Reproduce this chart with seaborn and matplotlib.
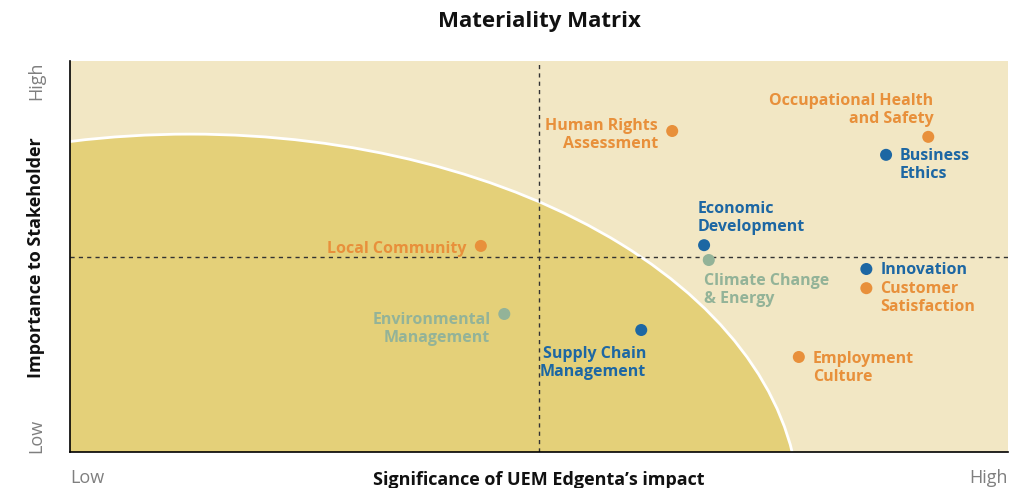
import matplotlib
matplotlib.use('Agg')
import matplotlib.pyplot as plt
from matplotlib.patches import Ellipse
import pandas as pd
import seaborn as sns

# topics on a 0-10 scale (x: significance of impact, y: importance to stakeholder)
topics = ['Human Rights\nAssessment', 'Occupational Health\nand Safety', 'Business\nEthics',
          'Economic\nDevelopment', 'Climate Change\n& Energy', 'Innovation',
          'Customer\nSatisfaction', 'Local Community', 'Environmental\nManagement',
          'Supply Chain\nManagement', 'Employment\nCulture']
impact = [6.42, 9.15, 8.70, 6.76, 6.81, 8.49, 8.49, 4.38, 4.63, 6.09, 7.77]
importance = [8.21, 8.06, 7.60, 5.29, 4.91, 4.68, 4.19, 5.27, 3.53, 3.12, 2.43]
group = ['orange', 'orange', 'blue', 'blue', 'green', 'blue', 'orange', 'orange', 'green', 'blue', 'orange']

palette = {'orange': '#E8903B', 'blue': '#1D67A3', 'green': '#93B398'}

# label placement relative to the dot (offset pixels, alignment)
label_layout = [(-14, -3, 'right'), (5, 28, 'right'), (14, -9, 'left'),
                (-6, 28, 'left'), (-5, -29, 'left'), (14, 0, 'left'),
                (14, -9, 'left'), (-14, -2, 'right'), (-14, -14, 'right'),
                (5, -32, 'right'), (14, -10, 'left')]

df = pd.DataFrame({'topic': topics, 'impact': impact, 'importance': importance, 'group': group})

sns.set_style('white')
plt.rcParams['font.family'] = ['Open Sans', 'DejaVu Sans']

fig = plt.figure(figsize=(10.29, 4.89), dpi=100)
ax = fig.add_axes([70 / 1029, 36 / 489, 938 / 1029, 391 / 489])
ax.set_xlim(0, 10)
ax.set_ylim(0, 10)
ax.set_facecolor('#F2E7C4')

# lower-priority zone
zone = Ellipse((1.28, -1.46), 12.99, 19.18, facecolor='#E4D079', edgecolor='white', lw=2, zorder=1)
ax.add_patch(zone)

ax.axvline(5, color='#333333', lw=1, ls=(0, (3, 3)), zorder=2)
ax.axhline(5, color='#333333', lw=1, ls=(0, (3, 3)), zorder=2)

sns.scatterplot(data=df, x='impact', y='importance', hue='group', palette=palette,
                s=75, edgecolor='none', legend=False, ax=ax, zorder=3)

for i, row in df.iterrows():
    dx, dy, ha = label_layout[i]
    ax.annotate(row['topic'], (row['impact'], row['importance']), xytext=(dx, dy),
                textcoords='offset pixels', ha=ha, va='center', fontsize=11.5,
                fontweight='bold', color=palette[row['group']], linespacing=1.22, zorder=4)

for side in ['top', 'right']:
    ax.spines[side].set_visible(False)
for side in ['left', 'bottom']:
    ax.spines[side].set_color('black')
    ax.spines[side].set_linewidth(1.2)
ax.set_xticks([])
ax.set_yticks([])
ax.set_xlabel('')
ax.set_ylabel('')

tick_col = '#7F7F7F'
ax.text(0, -0.064, 'Low', transform=ax.transAxes, ha='left', va='center', fontsize=13, color=tick_col)
ax.text(1, -0.064, 'High', transform=ax.transAxes, ha='right', va='center', fontsize=13, color=tick_col)
ax.text(0.5, -0.068, 'Significance of UEM Edgenta\u2019s impact', transform=ax.transAxes,
        ha='center', va='center', fontsize=13, fontweight='bold', color='#111111')
ax.text(-0.036, 1, 'High', transform=ax.transAxes, rotation=90, ha='center', va='top', fontsize=13,
        color=tick_col)
ax.text(-0.036, 0, 'Low', transform=ax.transAxes, rotation=90, ha='center', va='bottom', fontsize=13,
        color=tick_col)
ax.text(-0.036, 0.5, 'Importance to Stakeholder', transform=ax.transAxes, rotation=90,
        ha='center', va='center', fontsize=13, fontweight='bold', color='#111111')

fig.text(539 / 1029, 1 - 22 / 489, 'Materiality Matrix', ha='center', va='center',
         fontsize=16, fontweight='bold', color='#111111')

fig.savefig('out.png', dpi=100, facecolor='white')
